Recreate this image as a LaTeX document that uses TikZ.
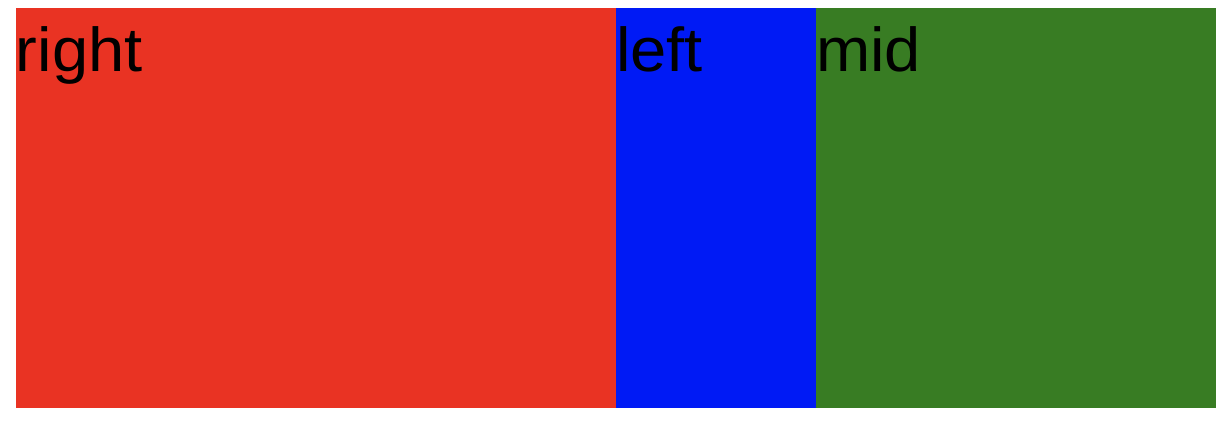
\documentclass[tikz,border=0pt]{standalone}
\usepackage{fontspec}
\setmainfont[FakeStretch=1.05]{Liberation Sans}
\definecolor{cred}{RGB}{233,51,35}
\definecolor{cblue}{RGB}{0,26,245}
\definecolor{cgreen}{RGB}{56,124,35}
\begin{document}
\begin{tikzpicture}[x=1pt,y=1pt,
  panel/.style={draw=none,inner sep=0,outer sep=0,minimum height=400pt,anchor=north west},
  lbl/.style={inner sep=0,outer sep=0,anchor=base west,font=\fontsize{62}{70}\selectfont,text=black}]
\useasboundingbox[fill=white] (0,0) rectangle (1224,422);
\node[panel,fill=cred,minimum width=600pt] (r) at (16,414) {};
\node[panel,fill=cblue,minimum width=200pt] (l) at (616,414) {};
\node[panel,fill=cgreen,minimum width=400pt] (m) at (816,414) {};
\node[lbl] (tr) at (16,350) {right};
\node[lbl] (tl) at (616,350) {left};
\node[lbl] (tm) at (816,350) {mid};
\end{tikzpicture}
\end{document}
